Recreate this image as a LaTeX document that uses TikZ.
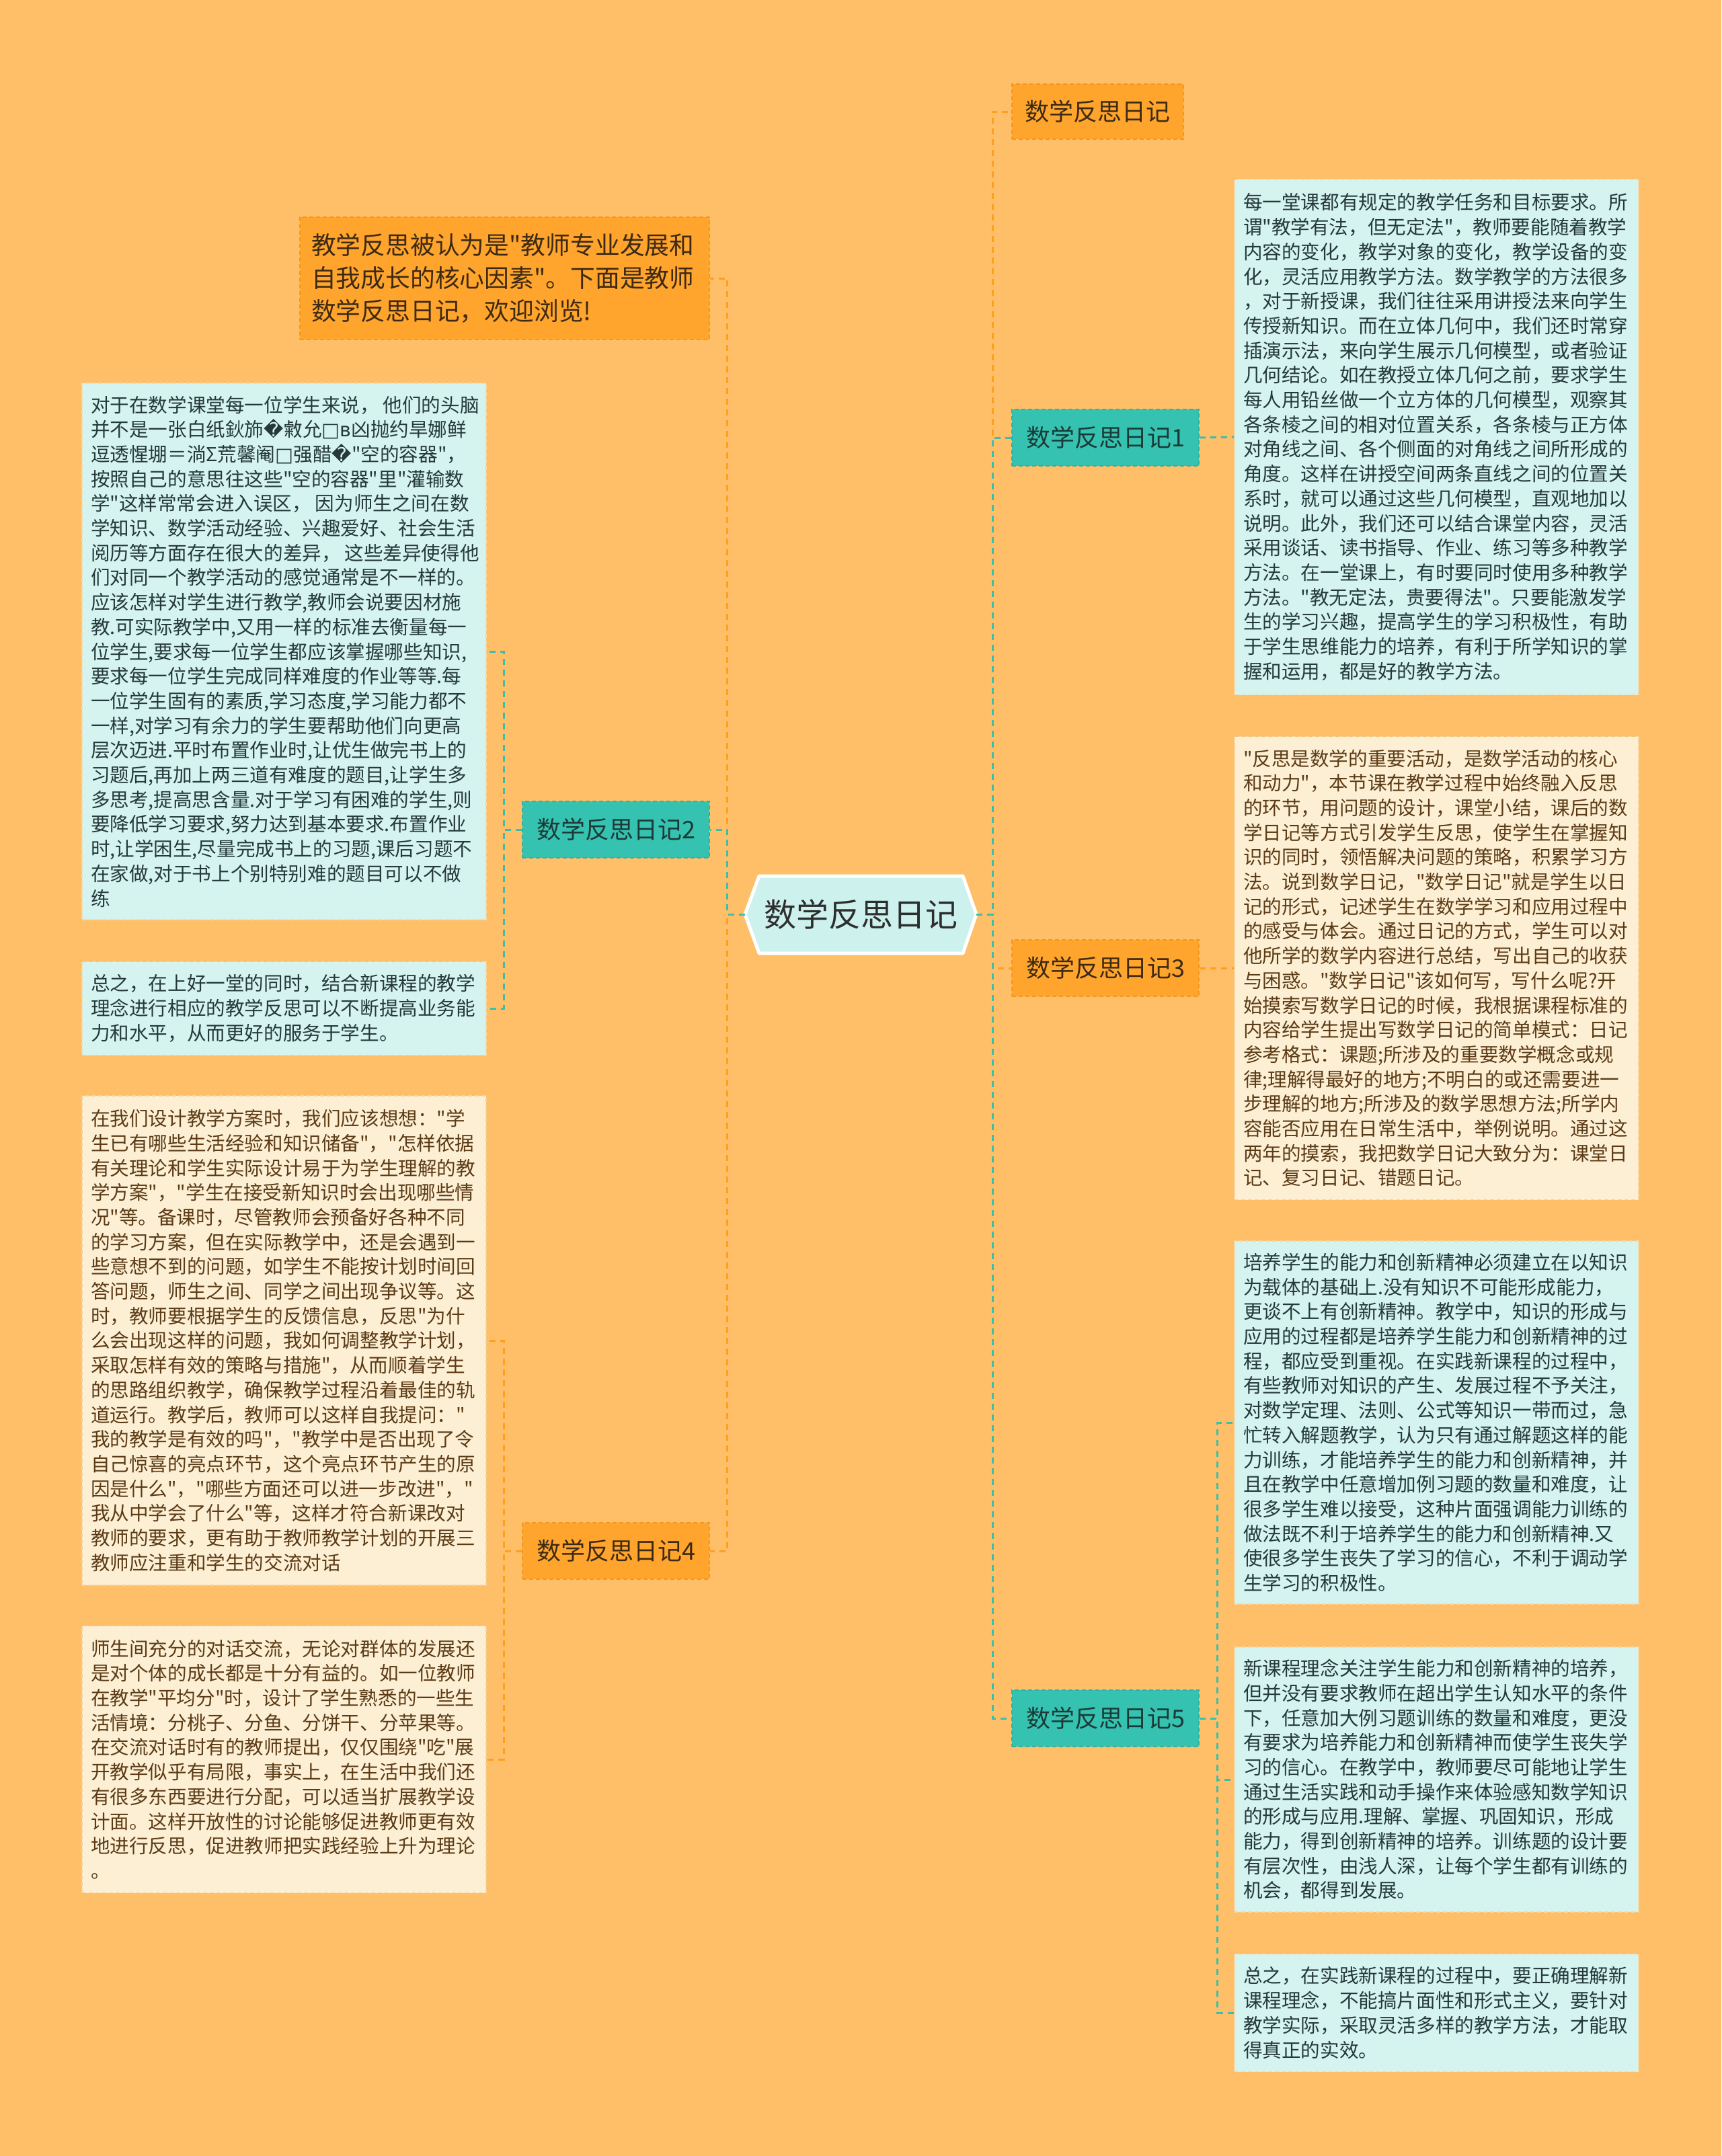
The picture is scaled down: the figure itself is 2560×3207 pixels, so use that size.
\documentclass[tikz,border=0pt]{standalone}
\usepackage{fontspec}
\setmainfont{Noto Sans CJK SC}[Ligatures=TeXOff]
\newfontfamily\dejavu{DejaVu Sans}
\definecolor{bgc}{HTML}{FFBE68}
\definecolor{orbox}{HTML}{FFA42C}
\definecolor{orborder}{HTML}{F3981E}
\definecolor{tlbox}{HTML}{35C2B0}
\definecolor{tlborder}{HTML}{2EB3A2}
\definecolor{cyfill}{HTML}{D5F3EF}
\definecolor{cyborder}{HTML}{F6D9A6}
\definecolor{crfill}{HTML}{FDEFD4}
\definecolor{crborder}{HTML}{F3D39C}
\definecolor{cytext}{HTML}{25393B}
\definecolor{crtext}{HTML}{5B3B16}
\definecolor{ortext}{HTML}{3D2A12}
\definecolor{tltext}{HTML}{1B3A37}
\definecolor{hubfill}{HTML}{CDF2EE}
\definecolor{lineO}{HTML}{FF9F1C}
\definecolor{lineT}{HTML}{3BBEAC}
\newcommand{\rep}{{\dejavu\symbol{"FFFD}}}
\newcommand{\bx}{{\dejavu □}}
\newcommand{\gapsp}{\kern0.2em}
\begin{document}
\begin{tikzpicture}[x=1pt,y=-1pt,
  leafbase/.style={rectangle, dashed, line width=1.6pt, dash pattern=on 6pt off 4pt,
    text width=575pt, inner xsep=13pt, inner ysep=0pt, align=left,
    font=\fontsize{28.6}{36.7}\selectfont},
  leafcy/.style={leafbase, fill=cyfill, draw=cyborder, text=cytext},
  leafcr/.style={leafbase, fill=crfill, draw=crborder, text=crtext},
  lvbase/.style={rectangle, line width=1.6pt, dash pattern=on 6pt off 4pt,
    minimum width=278pt, minimum height=84pt, inner sep=0pt,
    font=\fontsize{36}{40}\selectfont},
  lvteal/.style={lvbase, fill=tlbox, draw=tlborder, text=tltext},
  lvorange/.style={lvbase, fill=orbox, draw=orborder, text=ortext},
  connbase/.style={line width=3pt, dash pattern=on 9pt off 7pt},
  connO/.style={connbase, draw=lineO},
  connT/.style={connbase, draw=lineT}]
\fill[bgc] (0,0) rectangle (2560,3207);
\useasboundingbox (0,0) rectangle (2560,3207);

% hub hexagon
\filldraw[fill=hubfill, draw=white, line width=5pt, line join=round]
  (1108,1360) -- (1129,1303) -- (1432,1303) -- (1452,1360) -- (1432,1418) -- (1129,1418) -- cycle;
\node[minimum width=344pt, minimum height=115pt, inner sep=0pt, text=black!82,
  font=\fontsize{48}{52}\selectfont] (hub) at (1280,1360) {数学反思日记};

% level 1 right
\node[lvorange, minimum width=255pt, minimum height=82pt] (top) at (1632.5,166) {数学反思日记};
\node[lvteal] (d1) at (1644,651) {数学反思日记1};
\node[lvorange] (d3) at (1644,1440) {数学反思日记3};
\node[lvteal] (d5) at (1644,2556) {数学反思日记5};
% level 1 left
\node[lvorange, minimum width=609pt, minimum height=182pt, text width=575pt, inner xsep=17pt,
  align=left, font=\fontsize{36.8}{49}\selectfont] (intro) at (750.5,414)
  {教学反思被认为是"教师专业发展和\\自我成长的核心因素"。下面是教师\\数学反思日记，欢迎浏览!};
\node[lvteal] (d2) at (916,1234) {数学反思日记2};
\node[lvorange] (d4) at (916,2307) {数学反思日记4};

% leaves right
\node[leafcy, minimum height=767pt] (t1) at (2136.5,650) {每一堂课都有规定的教学任务和目标要求。所\\
谓"教学有法，但无定法"，教师要能随着教学\\
内容的变化，教学对象的变化，教学设备的变\\
化，灵活应用教学方法。数学教学的方法很多\\
，对于新授课，我们往往采用讲授法来向学生\\
传授新知识。而在立体几何中，我们还时常穿\\
插演示法，来向学生展示几何模型，或者验证\\
几何结论。如在教授立体几何之前，要求学生\\
每人用铅丝做一个立方体的几何模型，观察其\\
各条棱之间的相对位置关系，各条棱与正方体\\
对角线之间、各个侧面的对角线之间所形成的\\
角度。这样在讲授空间两条直线之间的位置关\\
系时，就可以通过这些几何模型，直观地加以\\
说明。此外，我们还可以结合课堂内容，灵活\\
采用谈话、读书指导、作业、练习等多种教学\\
方法。在一堂课上，有时要同时使用多种教学\\
方法。"教无定法，贵要得法"。只要能激发学\\
生的学习兴趣，提高学生的学习积极性，有助\\
于学生思维能力的培养，有利于所学知识的掌\\
握和运用，都是好的教学方法。};

\node[leafcr, minimum height=689pt] (t3) at (2136.5,1440) {"反思是数学的重要活动，是数学活动的核心\\
和动力"，本节课在教学过程中始终融入反思\\
的环节，用问题的设计，课堂小结，课后的数\\
学日记等方式引发学生反思，使学生在掌握知\\
识的同时，领悟解决问题的策略，积累学习方\\
法。说到数学日记，"数学日记"就是学生以日\\
记的形式，记述学生在数学学习和应用过程中\\
的感受与体会。通过日记的方式，学生可以对\\
他所学的数学内容进行总结，写出自己的收获\\
与困惑。"数学日记"该如何写，写什么呢?开\\
始摸索写数学日记的时候，我根据课程标准的\\
内容给学生提出写数学日记的简单模式：日记\\
参考格式：课题;所涉及的重要数学概念或规\\
律;理解得最好的地方;不明白的或还需要进一\\
步理解的地方;所涉及的数学思想方法;所学内\\
容能否应用在日常生活中，举例说明。通过这\\
两年的摸索，我把数学日记大致分为：课堂日\\
记、复习日记、错题日记。};

\node[leafcy, minimum height=540pt] (t5a) at (2136.5,2116) {培养学生的能力和创新精神必须建立在以知识\\
为载体的基础上.没有知识不可能形成能力，\\
更谈不上有创新精神。教学中，知识的形成与\\
应用的过程都是培养学生能力和创新精神的过\\
程，都应受到重视。在实践新课程的过程中，\\
有些教师对知识的产生、发展过程不予关注，\\
对数学定理、法则、公式等知识一带而过，急\\
忙转入解题教学，认为只有通过解题这样的能\\
力训练，才能培养学生的能力和创新精神，并\\
且在教学中任意增加例习题的数量和难度，让\\
很多学生难以接受，这种片面强调能力训练的\\
做法既不利于培养学生的能力和创新精神.又\\
使很多学生丧失了学习的信心，不利于调动学\\
生学习的积极性。};

\node[leafcy, minimum height=394pt] (t5b) at (2136.5,2647) {新课程理念关注学生能力和创新精神的培养，\\
但并没有要求教师在超出学生认知水平的条件\\
下，任意加大例习题训练的数量和难度，更没\\
有要求为培养能力和创新精神而使学生丧失学\\
习的信心。在教学中，教师要尽可能地让学生\\
通过生活实践和动手操作来体验感知数学知识\\
的形成与应用.理解、掌握、巩固知识，形成\\
能力，得到创新精神的培养。训练题的设计要\\
有层次性，由浅人深，让每个学生都有训练的\\
机会，都得到发展。};

\node[leafcy, minimum height=175pt] (t5c) at (2136.5,2994) {总之，在实践新课程的过程中，要正确理解新\\
课程理念，不能搞片面性和形式主义，要针对\\
教学实际，采取灵活多样的教学方法，才能取\\
得真正的实效。};

% leaves left
\node[leafcy, minimum height=798pt] (t2a) at (422.5,969) {对于在数学课堂每一位学生来说，\gapsp 他们的头脑\\
并不是一张白纸鈥斾\rep 敹允\bx{\dejavu ʙ}凶抛约旱娜鲜\\
逗透惺堋＝淌Σ荒馨阉\bx 强醋\rep"空的容器"，\\
按照自己的意思往这些"空的容器"里"灌输数\\
学"这样常常会进入误区，\gapsp 因为师生之间在数\\
学知识、数学活动经验、兴趣爱好、社会生活\\
阅历等方面存在很大的差异，\gapsp 这些差异使得他\\
们对同一个教学活动的感觉通常是不一样的。\\
应该怎样对学生进行教学,教师会说要因材施\\
教.可实际教学中,又用一样的标准去衡量每一\\
位学生,要求每一位学生都应该掌握哪些知识,\\
要求每一位学生完成同样难度的作业等等.每\\
一位学生固有的素质,学习态度,学习能力都不\\
一样,对学习有余力的学生要帮助他们向更高\\
层次迈进.平时布置作业时,让优生做完书上的\\
习题后,再加上两三道有难度的题目,让学生多\\
多思考,提高思含量.对于学习有困难的学生,则\\
要降低学习要求,努力达到基本要求.布置作业\\
时,让学困生,尽量完成书上的习题,课后习题不\\
在家做,对于书上个别特别难的题目可以不做\\
练};

\node[leafcy, minimum height=139pt] (t2b) at (422.5,1500) {总之，在上好一堂的同时，结合新课程的教学\\
理念进行相应的教学反思可以不断提高业务能\\
力和水平，从而更好的服务于学生。};

\node[leafcr, minimum height=728pt] (t4a) at (422.5,1994) {在我们设计教学方案时，我们应该想想："学\\
生已有哪些生活经验和知识储备"，"怎样依据\\
有关理论和学生实际设计易于为学生理解的教\\
学方案"，"学生在接受新知识时会出现哪些情\\
况"等。备课时，尽管教师会预备好各种不同\\
的学习方案，但在实际教学中，还是会遇到一\\
些意想不到的问题，如学生不能按计划时间回\\
答问题，师生之间、同学之间出现争议等。这\\
时，教师要根据学生的反馈信息，反思"为什\\
么会出现这样的问题，我如何调整教学计划，\\
采取怎样有效的策略与措施"，从而顺着学生\\
的思路组织教学，确保教学过程沿着最佳的轨\\
道运行。教学后，教师可以这样自我提问："\\
我的教学是有效的吗"，"教学中是否出现了令\\
自己惊喜的亮点环节，这个亮点环节产生的原\\
因是什么"，"哪些方面还可以进一步改进"，"\\
我从中学会了什么"等，这样才符合新课改对\\
教师的要求，更有助于教师教学计划的开展三\\
教师应注重和学生的交流对话};

\node[leafcr, minimum height=397pt] (t4b) at (422.5,2617) {师生间充分的对话交流，无论对群体的发展还\\
是对个体的成长都是十分有益的。如一位教师\\
在教学"平均分"时，设计了学生熟悉的一些生\\
活情境：分桃子、分鱼、分饼干、分苹果等。\\
在交流对话时有的教师提出，仅仅围绕"吃"展\\
开教学似乎有局限，事实上，在生活中我们还\\
有很多东西要进行分配，可以适当扩展教学设\\
计面。这样开放性的讨论能够促进教师更有效\\
地进行反思，促进教师把实践经验上升为理论\\
。};

% connectors hub -> level 1
\draw[connO] (hub.west) -- ++(-26,0) |- (intro.east);
\draw[connO] (hub.west) -- ++(-26,0) |- (d4.east);
\draw[connT] (hub.west) -- ++(-26,0) |- (d2.east);
\draw[connO] (hub.east) -- ++(24,0) |- (top.west);
\draw[connO] (hub.east) -- ++(24,0) |- (d3.west);
\draw[connT] (hub.east) -- ++(24,0) |- (d1.west);
\draw[connT] (hub.east) -- ++(24,0) |- (d5.west);
% level 1 -> leaves
\draw[connT] (d1.east) -- (t1.west);
\draw[connO] (d3.east) -- (t3.west);
\draw[connT] (d5.east) -- ++(27,0) |- (t5a.west);
\draw[connT] (d5.east) -- ++(27,0) |- (t5b.west);
\draw[connT] (d5.east) -- ++(27,0) |- (t5c.west);
\draw[connT] (d2.west) -- ++(-27,0) |- (t2a.east);
\draw[connT] (d2.west) -- ++(-27,0) |- (t2b.east);
\draw[connO] (d4.west) -- ++(-27,0) |- (t4a.east);
\draw[connO] (d4.west) -- ++(-27,0) |- (t4b.east);
\end{tikzpicture}
\end{document}
